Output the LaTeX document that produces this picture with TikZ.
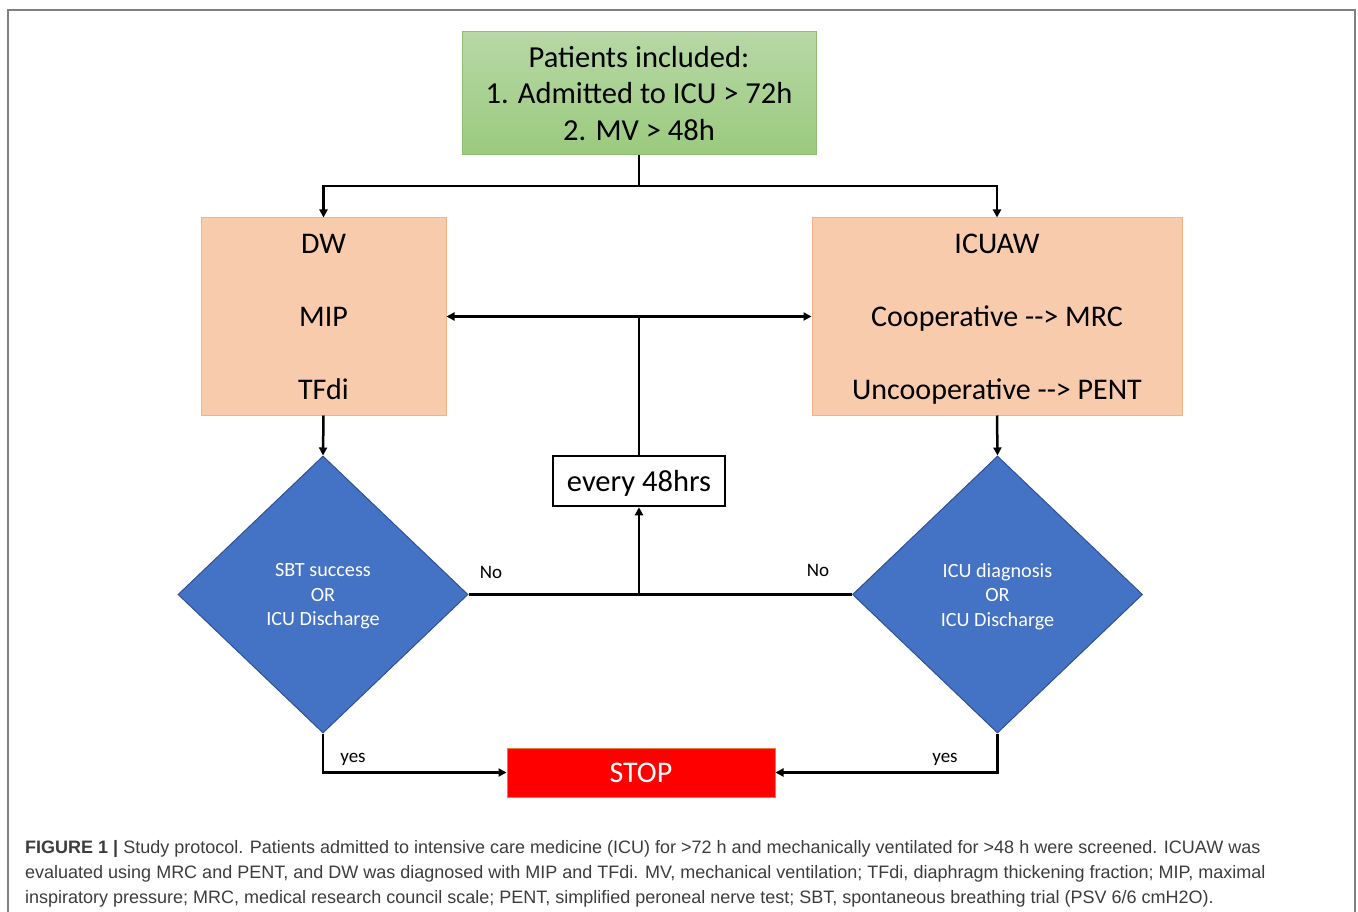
\documentclass[tikz,border=0pt]{standalone}
\usepackage{fontspec}
\setmainfont{Carlito}
\newfontfamily\capfont{Liberation Sans}
\usetikzlibrary{shapes.geometric,arrows.meta,positioning}

\definecolor{inctop}{RGB}{183,216,166}
\definecolor{incbot}{RGB}{155,202,126}
\definecolor{incline}{RGB}{140,192,110}
\definecolor{wfill}{RGB}{248,203,173}
\definecolor{wline}{RGB}{244,177,131}
\definecolor{qfill}{RGB}{68,114,196}
\definecolor{qline}{RGB}{47,82,143}
\definecolor{stopline}{RGB}{237,125,49}
\definecolor{capgray}{RGB}{60,60,60}

\newcommand{\darr}{{-}{-}>}

\begin{document}
\begin{tikzpicture}[x=1pt,y=-1pt,
    incbox/.style={draw=incline, top color=inctop, bottom color=incbot, line width=1pt, align=center,
      font=\fontsize{30.5}{36.5}\selectfont},
    wbox/.style={draw=wline, fill=wfill, line width=1pt, align=center, text depth=0pt,
      font=\fontsize{30}{73}\selectfont},
    query/.style={diamond, draw=qline, fill=qfill, line width=1pt, text=white, align=center,
      aspect=1.05, minimum width=290pt, minimum height=277pt, inner sep=0pt, text depth=0pt,
      font=\fontsize{20.2}{24.5}\selectfont},
    lbl/.style={font=\fontsize{19}{22}\selectfont},
    capline/.style={anchor=base west, inner sep=0pt, text=capgray, font=\capfont\fontsize{18}{25}\selectfont},
    arr/.style={-{Triangle[length=8pt,width=8pt]}, line width=2.5pt},
    line/.style={line width=2.5pt}]
  \useasboundingbox (0,0) rectangle (1358,912);
  \draw[gray, line width=2pt] (8,912) -- (8,10) -- (1355,10) -- (1355,912);

  % boxes
  \node[incbox, minimum width=354pt, minimum height=123pt] (incl) at (639,93.5)
    {Patients included:\\1. Admitted to ICU > 72h\\2. MV > 48h};
  \node[wbox, minimum width=245pt, minimum height=197pt] (dw) at (323.5,316.5) {DW\\MIP\\TFdi};
  \node[wbox, minimum width=370pt, minimum height=197pt] (icuaw) at (997,316.5)
    {ICUAW\\Cooperative \darr{} MRC\\Uncooperative \darr{} PENT};
  \node[draw, line width=2.5pt, fill=white, minimum width=172pt, minimum height=50pt, text depth=0pt,
    font=\fontsize{30.5}{34}\selectfont] (every) at (639,481) {every 48hrs};
  \node[query] (lq) at (323,594.5) {SBT success\\OR\\ICU Discharge};
  \node[query] (rq) at (997.5,594.5) {ICU diagnosis\\OR\\ICU Discharge};
  \node[draw=stopline, fill=red, line width=1pt, minimum width=268pt, minimum height=49pt,
    text=white, font=\fontsize{30}{34}\selectfont] (stop) at (641,772.5) {STOP};

  % connectors
  \coordinate (split) at (639,186);
  \coordinate (loop) at (639,317);
  \coordinate (join) at (639,594.5);
  \draw[line] (incl.south) -- (split);
  \draw[arr] (split) -| (dw.north);
  \draw[arr] (split) -| (icuaw.north);
  \draw[arr, {Triangle[length=8pt,width=8pt]}-{Triangle[length=8pt,width=8pt]}] (dw.east) -- (icuaw.west);
  \draw[line] (every.north) -- (loop);
  \draw[arr] (dw.south) -- (lq.north);
  \draw[arr] (icuaw.south) -- (rq.north);
  \draw[line] (lq.east) -- (rq.west);
  \draw[arr] (join) -- (every.south);
  \draw[arr] (lq.south) |- (stop.west);
  \draw[arr] (rq.south) |- (stop.east);

  \node[lbl] (nol) at (491,572) {No};
  \node[lbl] (nor) at (818,570) {No};
  \node[lbl] (yesl) at (353,759) {yes};
  \node[lbl] (yesr) at (945,759) {yes};

  % caption
  \node[capline] (cap1) at (25,853) {\textbf{FIGURE 1 |} Study protocol. Patients admitted to intensive care medicine (ICU) for >72 h and mechanically ventilated for >48 h were screened. ICUAW was};
  \node[capline] (cap2) at (25,878) {evaluated using MRC and PENT, and DW was diagnosed with MIP and TFdi. MV, mechanical ventilation; TFdi, diaphragm thickening fraction; MIP, maximal};
  \node[capline] (cap3) at (25,903) {inspiratory pressure; MRC, medical research council scale; PENT, simplified peroneal nerve test; SBT, spontaneous breathing trial (PSV 6/6 cmH2O).};
\end{tikzpicture}
\end{document}
